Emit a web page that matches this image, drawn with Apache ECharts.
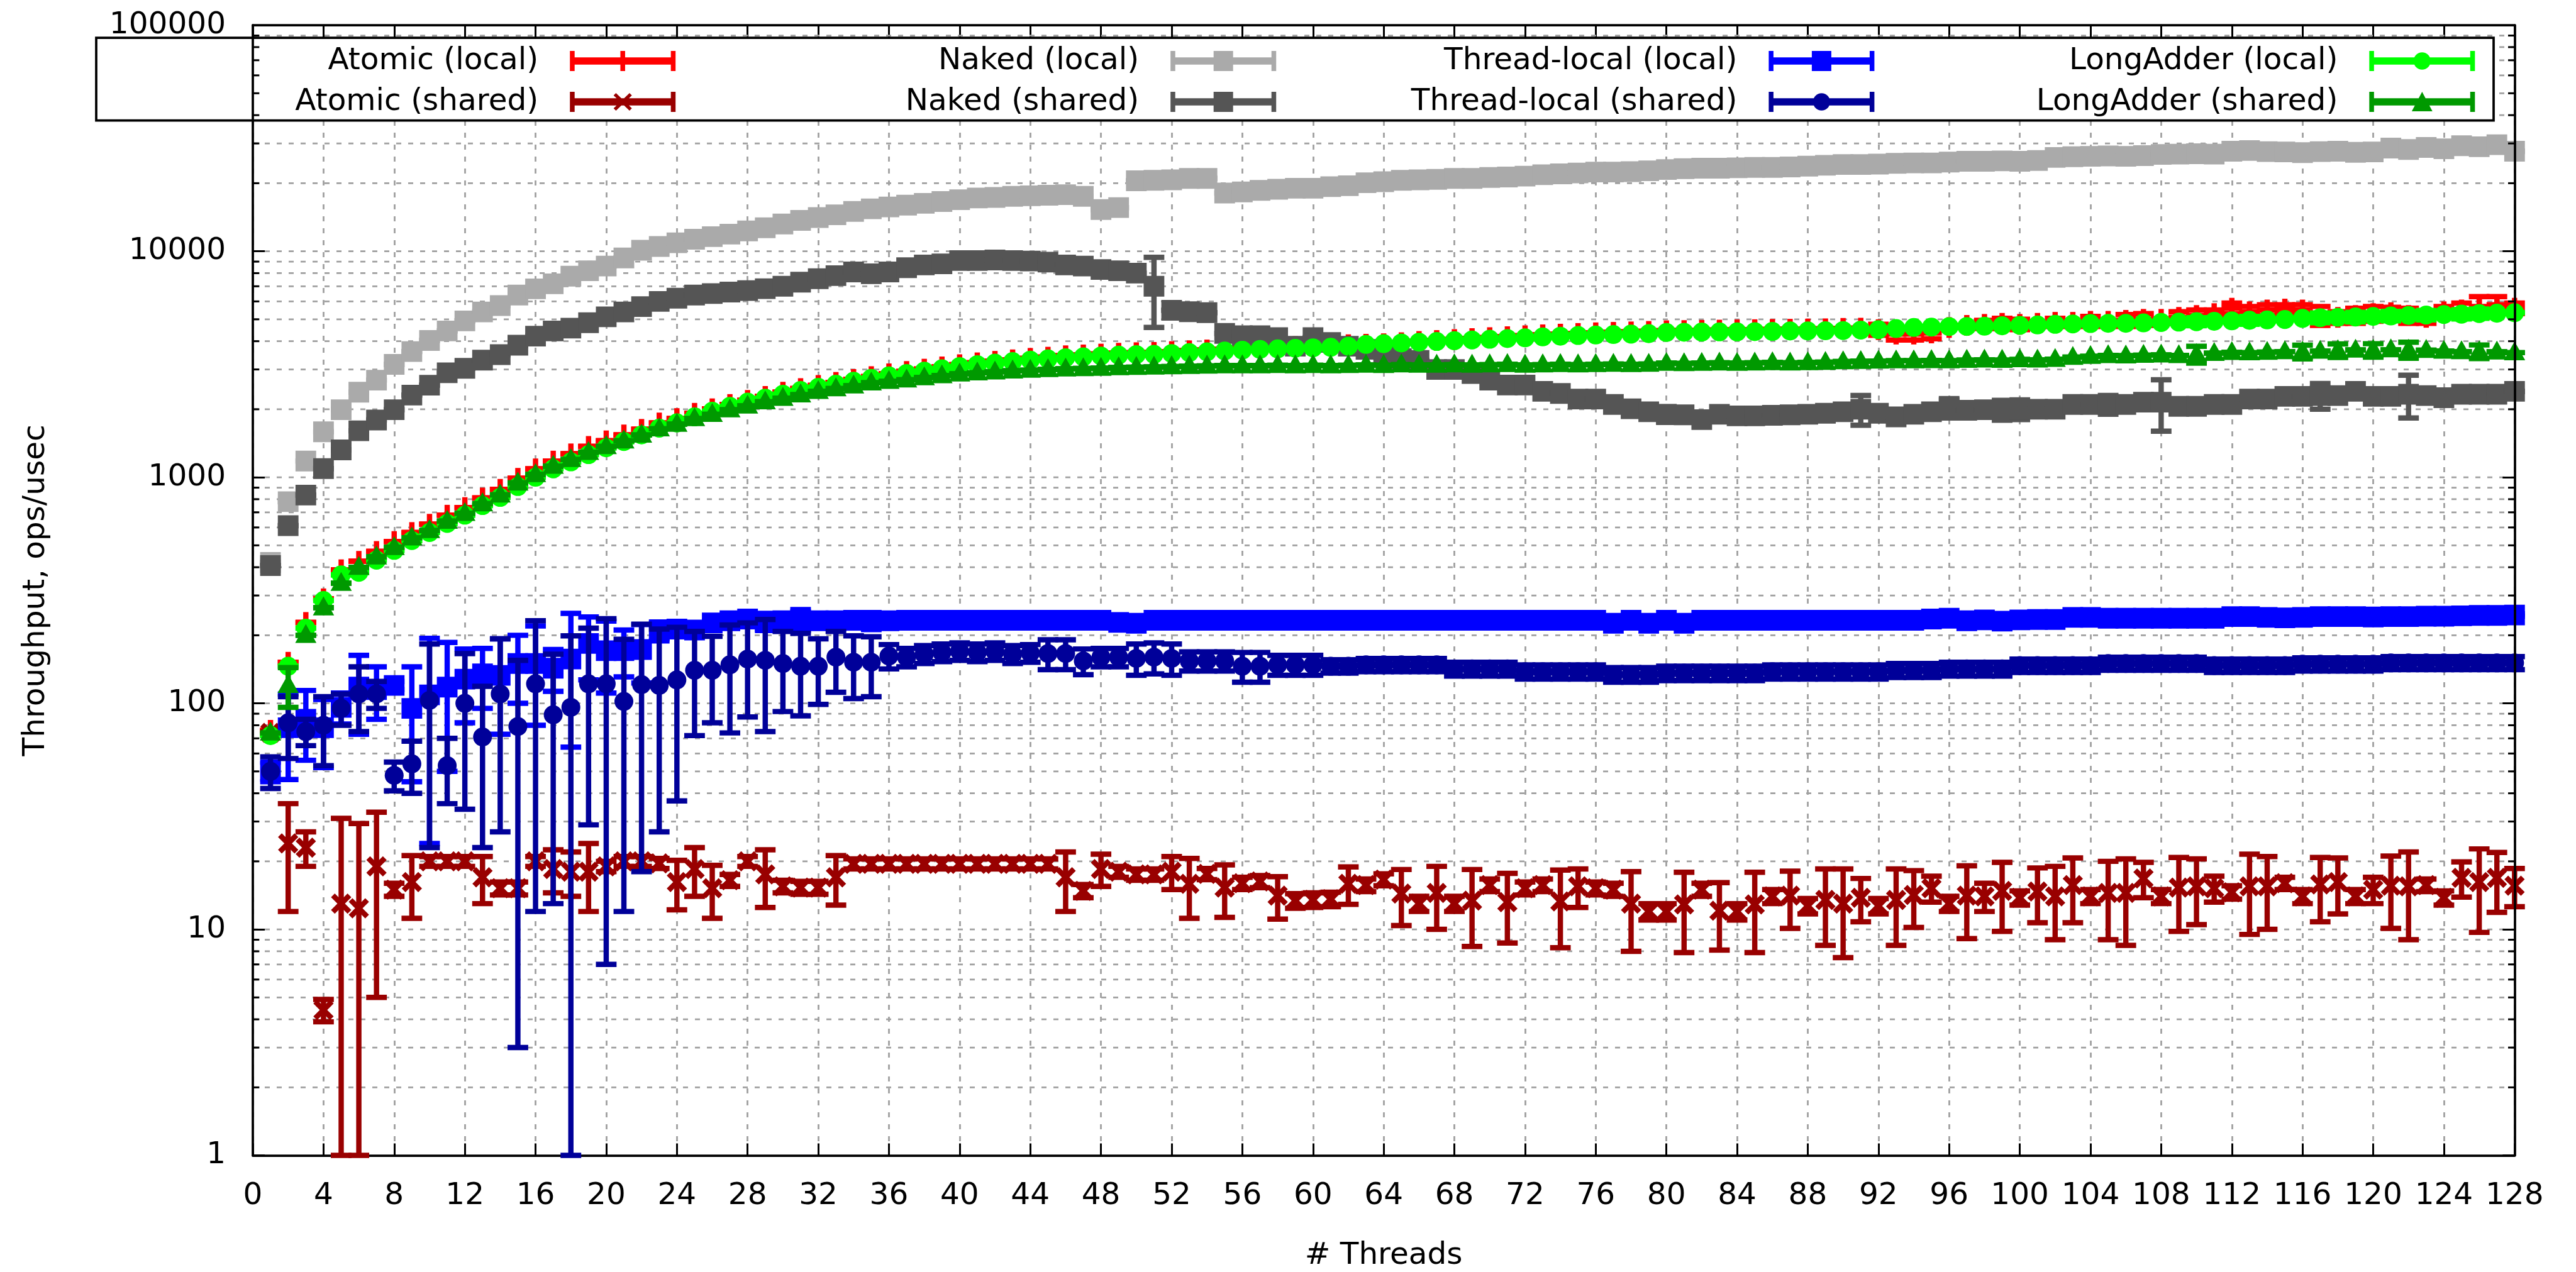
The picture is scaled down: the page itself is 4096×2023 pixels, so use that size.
<!DOCTYPE html>
<html>
<head>
<meta charset="utf-8">
<script src="https://cdn.jsdelivr.net/npm/echarts@6/dist/echarts.min.js"></script>
<style>
html,body{margin:0;padding:0;background:#ffffff;}
#chart{width:4096px;height:2023px;}
</style>
</head>
<body>
<div id="chart"></div>
<script>
// ---------------- DATA ----------------
const threads = [1,2,3,4,5,6,7,8,9,10,11,12,13,14,15,16,17,18,19,20,21,22,23,24,25,26,27,28,29,30,31,32,
33,34,35,36,37,38,39,40,41,42,43,44,45,46,47,48,49,50,51,52,53,54,55,56,57,58,59,60,61,62,63,64,
65,66,67,68,69,70,71,72,73,74,75,76,77,78,79,80,81,82,83,84,85,86,87,88,89,90,91,92,93,94,95,96,
97,98,99,100,101,102,103,104,105,106,107,108,109,110,111,112,113,114,115,116,117,118,119,120,121,122,123,124,125,126,127,128];

const yTickValues = [1, 10, 100, 1000, 10000, 100000];
const yMinorValues = [2,3,4,5,6,7,8,9, 20,30,40,50,60,70,80,90, 200,300,400,500,600,700,800,900,
  2000,3000,4000,5000,6000,7000,8000,9000, 20000,30000,40000,50000,60000,70000,80000,90000];
const yGridMajor = [10, 100, 1000, 10000];

const seriesNames = ['Atomic (local)','Atomic (shared)','Naked (local)','Naked (shared)',
  'Thread-local (local)','Thread-local (shared)','LongAdder (local)','LongAdder (shared)'];

const atomicLocal = [
76,152,228,290,390,425,470,520,570,620,
680,735,810,885,990,1090,1180,1270,1370,1450,
1540,1630,1740,1820,1920,2010,2100,2190,2280,2380,
2470,2550,2630,2710,2790,2870,2940,3010,3080,3150,
3210,3260,3310,3360,3400,3450,3480,3510,3540,3560,
3570,3600,3630,3660,3690,3720,3750,3770,3790,3810,
3830,3860,3880,3900,3940,3990,4030,4070,4110,4150,
4190,4230,4270,4300,4330,4360,4380,4400,4420,4450,
4460,4470,4480,4490,4500,4510,4520,4530,4540,4560,
4570,4500,4300,4300,4350,4600,4700,4750,4800,4750,
4800,4850,4850,4900,4900,4950,5000,5000,5100,5200,
5300,5600,5400,5500,5550,5500,5200,5100,5200,5300,
5350,5200,5100,5400,5500,5700,5800,5600];
const atomicLocalErrAt = [[92,250],[93,250],[94,250],[95,250],[98,200],[99,250],[100,250],[102,200],
  [104,250],[106,300],[107,300],[109,300],[110,300],[111,200],[112,300],[113,300],[114,300],[115,250],
  [116,300],[117,500],[118,300],[119,400],[120,400],[121,300],[122,400],[123,300],[124,300],[125,400],
  [126,600],[127,500],[128,300]];

const atomicShared = [
74,24,23,4.4,13,12.4,19,15,16.2,20,
20,20,17,15.2,15.2,20,18.5,18,18,19,
20,20,19.6,16.2,18.5,15.2,16.5,20,17.5,15.5,
15.3,15.3,17,19.5,19.5,19.5,19.5,19.5,19.5,19.5,
19.5,19.5,19.5,19.5,19.5,17,14.8,18.5,18,17.5,
17.5,18,15.9,17.6,15.3,16,16.3,14.1,13.4,13.5,
13.6,15.9,15.7,16.6,14.4,13,14.5,13,13.4,15.7,
13.2,15.2,15.7,13.3,15.5,15.2,15,13,12,12,
12.9,15,12.1,12,12.9,14,14.1,12.7,13.5,13,
13.8,12.7,13.5,14.2,15.2,13,14.1,14,14.8,13.8,
14.7,14,15.7,14,14.5,14.5,16.8,14,15.3,15.5,
15.2,14.6,15.5,15.5,16,14,15.8,16.2,14,15,
15.6,15.5,15.7,13.8,16.9,16.2,16.9,15.6];
const atomicSharedErr = [
1,12,4,0.5,18,17,14,1,5,1,
1,1,4,1,1,1,4,4,6,1,
1,1,1,4,4.5,4,1,1,5,1,
1,1,4.2,1,1,1,1,1,1,1,
1,1,1,1,1,5,1,3,1,1,
1,3,4.7,1,4,1,1,3,1,1,
1,3,1,1,4,1,4.5,1,5,1,
4.5,1,1,5,3,1,1,5,1,1,
5,1,4,1,5,1,4,1,5,5.5,
3,1,5,4,2,1,5,2,5,1,
4,5,5,1,5.5,6,3,1,5.5,5,
2,1,6,5.5,1,1,5,4.5,1,2,
5.5,6.5,1,1,3,6.5,5,3];

const nakedLocal = [
420,780,1180,1590,1990,2380,2690,3160,3600,4030,
4440,4920,5390,5750,6400,6820,7180,7760,8200,8600,
9340,10100,10500,10900,11300,11600,11900,12300,12700,13200,
13700,14100,14500,15000,15400,15700,16000,16300,16600,16900,
17200,17300,17500,17600,17700,17800,17500,15300,15600,20500,
20600,20700,21000,21000,18100,18300,18600,18800,19000,19000,
19300,19500,20100,20300,20600,20700,20800,21000,21000,21200,
21300,21500,21800,22000,22200,22400,22400,22500,22700,23000,
23200,23300,23300,23400,23500,23500,23600,23800,24000,24200,
24200,24300,24500,24600,24600,24800,25000,25000,25100,25000,
25200,26000,26200,26300,26400,26300,26500,26800,26900,27000,
26900,27700,27900,27600,27500,27300,27600,27700,27400,27500,
28600,28200,28800,28400,29300,29000,29600,27700];
const nakedLocalErrAt = [];

const nakedShared = [
407,611,834,1093,1322,1606,1792,1990,2310,2555,
2900,3035,3300,3490,3840,4210,4440,4570,4830,5130,
5390,5690,6000,6200,6400,6500,6600,6700,6830,7000,
7300,7560,7800,8100,7950,8100,8460,8700,8800,9100,
9100,9150,9100,9050,8950,8700,8600,8300,8200,8000,
7000,5480,5400,5350,4330,4230,4230,4150,3800,4150,
3950,3800,3680,3500,3350,3290,3000,3000,2880,2690,
2560,2560,2400,2350,2220,2220,2100,2010,1950,1900,
1890,1800,1900,1870,1870,1880,1890,1900,1920,1950,
2000,1920,1850,1900,1950,2030,1980,1990,1990,2000,
2000,2000,2100,2100,2100,2100,2150,2150,2060,2060,
2100,2100,2220,2220,2280,2280,2300,2300,2400,2280,
2280,2330,2300,2250,2330,2330,2330,2400];
const nakedSharedErrAt = [[51,2400],[80,150],[91,300],[96,200],[99,200],[100,200],[105,200],[108,550],[117,300],[122,500]];

const tlLocal = [
50,78,85,78,96,118,115,120,95,109,
118,128,135,133,150,150,143,157,184,171,
171,173,209,213,211,227,232,236,230,232,
235,232,232,233,232,232,233,233,233,233,
233,233,233,233,233,233,233,233,228,226,
233,233,233,233,233,233,233,233,233,233,
233,233,233,233,233,233,233,233,233,233,
233,233,233,233,233,233,226,233,226,233,
226,233,233,233,233,233,233,233,233,233,
233,233,233,233,236,238,232,234,231,234,
235,235,240,240,238,238,238,238,238,238,
238,242,242,240,239,240,242,242,242,241,
242,242,243,243,244,245,245,246];
const tlLocalErr = [
5,32,29,26,15,45,30,5,50,85,
68,46,40,60,50,70,30,93,57,60,
40,50,20,15,10,5,5,5,20,5,
25,3,3,3,20,3,3,3,3,3,
3,3,3,3,3,3,3,3,10,10,
3,3,3,3,3,3,3,3,3,3,
3,3,3,3,3,3,3,3,3,3,
3,3,3,3,3,3,3,3,3,3,
3,3,3,3,3,3,3,3,3,3,
3,3,3,3,3,3,3,3,3,3,
3,3,3,3,3,3,3,3,3,3,
3,3,3,3,3,3,3,3,3,3,
3,3,3,3,3,3,3,3];

const tlShared = [
50,82,75,80,95,110,110,48,54,103,
53,100,71,110,79,122,89,96,122,122,
102,121,120,127,140,140,148,157,155,150,
146,146,160,152,152,162,160,165,168,170,
168,170,165,167,166,166,154,160,160,158,
160,158,154,154,154,146,146,148,148,148,
146,146,148,148,148,148,148,142,142,142,
142,138,138,138,138,138,134,134,134,136,
136,136,136,136,136,138,138,138,138,138,
138,138,140,140,140,142,142,142,142,147,
147,147,147,147,150,150,150,150,150,150,
147,147,147,147,147,149,149,149,149,149,
151,151,151,151,151,151,151,151];
const tlSharedErr = [
8,25,10,27,15,35,15,7,14,80,
17,66,48,83,76,110,76,103,93,115,
90,103,93,90,68,58,74,70,80,58,
58,47,48,47,45,20,15,15,15,15,
15,15,15,15,25,25,20,15,15,25,
25,25,15,15,15,22,22,15,15,15,
10,10,10,10,10,10,10,10,10,10,
10,10,10,10,10,10,10,10,10,10,
10,10,10,10,10,10,10,10,10,10,
10,10,10,10,10,10,10,10,10,10,
10,10,10,10,10,10,10,10,10,10,
10,10,10,10,10,10,10,10,10,10,
10,10,10,10,10,10,10,10];

const laLocal = [
72,146,215,285,370,380,430,475,525,570,
625,680,750,815,910,1000,1090,1170,1260,1350,
1440,1540,1650,1740,1850,1960,2060,2150,2240,2330,
2420,2500,2580,2660,2740,2810,2880,2950,3020,3090,
3150,3200,3250,3300,3340,3380,3410,3440,3470,3490,
3500,3530,3560,3590,3620,3650,3680,3700,3720,3740,
3760,3800,3870,3900,3930,3960,3990,4020,4050,4080,
4110,4140,4180,4210,4240,4260,4280,4300,4320,4370,
4380,4390,4400,4400,4410,4420,4440,4440,4450,4460,
4480,4500,4550,4600,4620,4640,4650,4660,4680,4700,
4720,4750,4770,4790,4800,4800,4820,4840,4860,4880,
4900,4920,4950,4970,4990,5050,5080,5100,5120,5150,
5170,5200,5220,5250,5270,5300,5320,5350];
const laLocalErrAt = [[110,200],[113,200],[117,250],[119,250],[121,250],[123,250],[125,250],[126,250]];

const laShared = [
74,120,200,265,340,400,445,490,540,582,
640,693,765,836,944,1030,1120,1200,1290,1370,
1450,1540,1640,1720,1820,1900,1990,2070,2160,2240,
2320,2400,2470,2540,2620,2660,2700,2760,2820,2870,
2900,2930,2960,2980,3000,3020,3030,3040,3060,3070,
3080,3090,3100,3110,3120,3120,3120,3130,3120,3130,
3120,3130,3140,3130,3150,3140,3140,3150,3140,3150,
3160,3140,3150,3160,3150,3160,3170,3160,3170,3200,
3190,3200,3210,3200,3210,3220,3210,3220,3230,3250,
3260,3270,3280,3280,3290,3280,3300,3310,3300,3320,
3310,3330,3400,3430,3460,3450,3470,3480,3460,3500,
3540,3570,3560,3580,3600,3590,3620,3640,3660,3650,
3670,3660,3650,3620,3600,3600,3590,3560];
const laSharedErrAt = [[2,24],[110,300],[116,250],[118,250],[120,250],[122,300],[126,250]];

// ---------------- STYLE ----------------
const S = 0.939;
const FONT = 'DejaVu Sans';
const FS = 48.5;
const BAR_W = 9 * S;
const CAP = 17.5 * S;

function errFromPairs(pairs) {
  const e = threads.map(() => 0);
  pairs.forEach(p => { e[threads.indexOf(p[0])] = p[1]; });
  return e;
}
function buildData(vals, errs) {
  return threads.map((t, i) => {
    const y = vals[i], d = errs[i] || 0;
    return [t, y, Math.max(y - d, 1), y + d];
  });
}

function makeRender(shape, color) {
  return function (params, api) {
    const t = api.value(0), y = api.value(1), lo = api.value(2), hi = api.value(3);
    const p = api.coord([t, y]);
    const pl = api.coord([t, lo]);
    const ph = api.coord([t, hi]);
    const ln = (x1, y1, x2, y2) => ({type: 'line', shape: {x1, y1, x2, y2},
      style: {stroke: color, lineWidth: BAR_W, fill: null}});
    const ch = [
      ln(p[0], pl[1], p[0], ph[1]),
      ln(p[0] - CAP, pl[1], p[0] + CAP, pl[1]),
      ln(p[0] - CAP, ph[1], p[0] + CAP, ph[1])
    ];
    const x = p[0], yy = p[1];
    if (shape === 'square') {
      const h = 17.5 * S;
      ch.push({type: 'rect', shape: {x: x - h, y: yy - h, width: 2 * h, height: 2 * h}, style: {fill: color}});
    } else if (shape === 'circle') {
      ch.push({type: 'circle', shape: {cx: x, cy: yy, r: 16 * S}, style: {fill: color}});
    } else if (shape === 'triangle') {
      ch.push({type: 'polygon', shape: {points: [[x, yy - 19 * S], [x + 18 * S, yy + 13 * S], [x - 18 * S, yy + 13 * S]]}, style: {fill: color}});
    } else if (shape === 'plus') {
      const h = 17.5 * S;
      ch.push(ln(x - h, yy, x + h, yy));
      ch.push(ln(x, yy - h, x, yy + h));
    } else if (shape === 'cross') {
      const h = 14 * S;
      ch.push(ln(x - h, yy - h, x + h, yy + h));
      ch.push(ln(x - h, yy + h, x + h, yy - h));
    }
    return {type: 'group', children: ch};
  };
}

const baseIcon = 'M0 0L8 0L8 34L0 34ZM171 0L179 0L179 34L171 34ZM0 11L179 11L179 23L0 23Z';
const markerIcon = {
  plus: 'M85.5 0L93.5 0L93.5 34L85.5 34Z',
  cross: 'M78 2L105 28L101 32L74 6ZM101 2L105 6L78 32L74 28Z',
  square: 'M73 0L106 0L106 34L73 34Z',
  circle: 'M75 17A14.5 14.5 0 1 1 104 17A14.5 14.5 0 1 1 75 17Z',
  triangle: 'M89.5 0L107 33L72 33Z'
};

const defs = [
  {name: seriesNames[0], color: '#ff0000', shape: 'plus', vals: atomicLocal, errs: errFromPairs(atomicLocalErrAt)},
  {name: seriesNames[1], color: '#990000', shape: 'cross', vals: atomicShared, errs: atomicSharedErr},
  {name: seriesNames[2], color: '#aaaaaa', shape: 'square', vals: nakedLocal, errs: errFromPairs(nakedLocalErrAt)},
  {name: seriesNames[3], color: '#555555', shape: 'square', vals: nakedShared, errs: errFromPairs(nakedSharedErrAt)},
  {name: seriesNames[4], color: '#0000ff', shape: 'square', vals: tlLocal, errs: tlLocalErr},
  {name: seriesNames[5], color: '#000099', shape: 'circle', vals: tlShared, errs: tlSharedErr},
  {name: seriesNames[6], color: '#00ff00', shape: 'circle', vals: laLocal, errs: errFromPairs(laLocalErrAt)},
  {name: seriesNames[7], color: '#009900', shape: 'triangle', vals: laShared, errs: errFromPairs(laSharedErrAt)}
];
const iconOf = {};
defs.forEach(d => { iconOf[d.name] = 'path://' + baseIcon + markerIcon[d.shape]; });

const dataSeries = defs.map(d => ({
  type: 'custom',
  name: d.name,
  coordinateSystem: 'cartesian2d',
  xAxisIndex: 0, yAxisIndex: 0,
  data: buildData(d.vals, d.errs),
  encode: {x: 0, y: 1},
  renderItem: makeRender(d.shape, d.color),
  itemStyle: {color: d.color},
  clip: false, silent: true, z: 2
}));

const gridSeries = {
  type: 'custom', name: '_grid', coordinateSystem: 'cartesian2d', xAxisIndex: 0, yAxisIndex: 0,
  data: yGridMajor.concat(yMinorValues).map(v => [0, v]), encode: {x: 0, y: 1},
  silent: true, z: 1, clip: false,
  renderItem: function (params, api) {
    const cs = params.coordSys;
    const p = api.coord([0, api.value(1)]);
    return {type: 'line', shape: {x1: cs.x, y1: p[1], x2: cs.x + cs.width, y2: p[1]},
      style: {stroke: '#a0a0a0', lineWidth: 2.8, lineDash: [8, 11], fill: null}};
  }
};
const minorTickSeries = {
  type: 'custom', name: '_minorTicks', coordinateSystem: 'cartesian2d', xAxisIndex: 0, yAxisIndex: 0,
  data: yMinorValues.map(v => [0, v]), encode: {x: 0, y: 1},
  silent: true, z: 6, clip: false,
  renderItem: function (params, api) {
    const cs = params.coordSys;
    const p = api.coord([0, api.value(1)]);
    const L = 11 * S;
    return {type: 'group', children: [
      {type: 'line', shape: {x1: cs.x, y1: p[1], x2: cs.x + L, y2: p[1]}, style: {stroke: '#000', lineWidth: 3}},
      {type: 'line', shape: {x1: cs.x + cs.width - L, y1: p[1], x2: cs.x + cs.width, y2: p[1]}, style: {stroke: '#000', lineWidth: 3}}
    ]};
  }
};

// one vertical legend per key column: icons share the same origin, texts right-aligned to their left
const legendText = {fontFamily: FONT, fontSize: FS, color: '#000', lineHeight: 50, padding: [0, 45, 0, 0]};
function legendColumn(names, iconRight) {
  return {
    data: names.map(n => ({name: n, icon: iconOf[n]})),
    orient: 'vertical', right: 4096 - iconRight, top: 72, padding: 0,
    itemGap: 15, itemWidth: 168, itemHeight: 32, align: 'right',
    selectedMode: false, symbolKeepAspect: false,
    itemStyle: {borderWidth: 0},
    textStyle: legendText, z: 4
  };
}

const axisFont = {fontFamily: FONT, fontSize: FS, color: '#000'};
const option = {
  animation: false,
  backgroundColor: '#ffffff',
  grid: {left: 402, right: 97.7, top: 40.1, bottom: 185.4, containLabel: false, outerBoundsMode: 'none'},
  xAxis: [
    {type: 'value', min: 0, max: 128, interval: 4, position: 'bottom',
     name: '# Threads', nameLocation: 'middle', nameGap: 135, nameMoveOverlap: false,
     nameTextStyle: axisFont,
     axisLine: {show: true, onZero: false, lineStyle: {color: '#000', width: 3.75}},
     axisTick: {show: true, inside: true, length: 19, lineStyle: {color: '#000', width: 3}},
     axisLabel: Object.assign({show: true, margin: 40}, axisFont),
     splitLine: {show: true, lineStyle: {color: '#a0a0a0', width: 2.8, type: [8, 11]}}},
    {type: 'value', min: 0, max: 128, interval: 4, position: 'top',
     axisLine: {show: true, onZero: false, lineStyle: {color: '#000', width: 3.75}},
     axisTick: {show: true, inside: true, length: 19, lineStyle: {color: '#000', width: 3}},
     axisLabel: {show: false}, splitLine: {show: false}}
  ],
  yAxis: [
    {type: 'log', logBase: 10, min: 1, max: 100000, position: 'left', z: 5,
     name: 'Throughput, ops/usec', nameLocation: 'middle', nameGap: 320, nameMoveOverlap: false,
     nameTextStyle: axisFont,
     axisLine: {show: true, onZero: false, lineStyle: {color: '#000', width: 3.75}},
     axisTick: {show: true, inside: true, length: 19, lineStyle: {color: '#000', width: 3}},
     axisLabel: Object.assign({show: true, margin: 43, formatter: v => String(Math.round(v))}, axisFont),
     splitLine: {show: false}, minorTick: {show: false}, minorSplitLine: {show: false}},
    {type: 'log', logBase: 10, min: 1, max: 100000, position: 'right', z: 5,
     axisLine: {show: true, onZero: false, lineStyle: {color: '#000', width: 3.75}},
     axisTick: {show: true, inside: true, length: 19, lineStyle: {color: '#000', width: 3}},
     axisLabel: {show: false}, splitLine: {show: false}}
  ],
  legend: [
    legendColumn([seriesNames[0], seriesNames[1]], 1074.2),
    legendColumn([seriesNames[2], seriesNames[3]], 2029.2),
    legendColumn([seriesNames[4], seriesNames[5]], 2980.4),
    legendColumn([seriesNames[6], seriesNames[7]], 3935.3)
  ],
  graphic: [
    {type: 'rect', z: 3, silent: true,
     shape: {x: 153, y: 60, width: 3812, height: 131.6},
     style: {fill: '#ffffff', stroke: '#000000', lineWidth: 3.75}}
  ],
  series: [gridSeries].concat(dataSeries).concat([minorTickSeries])
};

const chart = echarts.init(document.getElementById('chart'), null, {renderer: 'canvas', width: 4096, height: 2023});
chart.setOption(option);
</script>
</body>
</html>
